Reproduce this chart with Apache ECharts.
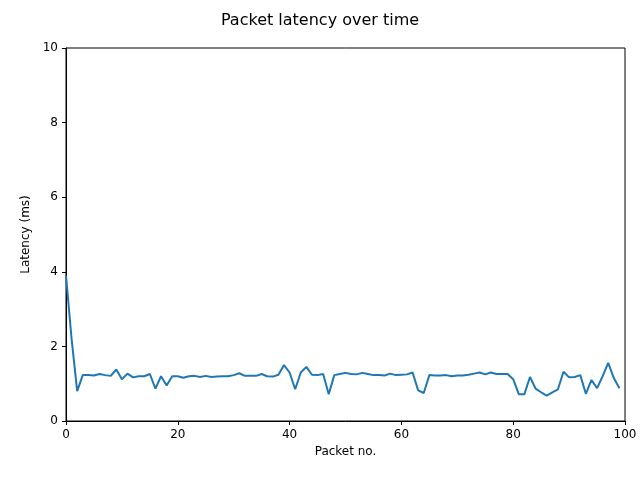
<!DOCTYPE html>
<html>
<head>
<meta charset="utf-8">
<script src="https://cdn.jsdelivr.net/npm/echarts@6/dist/echarts.min.js"></script>
<style>html,body{margin:0;padding:0;background:#fff}#m{width:640px;height:480px}</style>
</head>
<body>
<div id="m"></div>
<script>
// latency per packet (ms), packets 0..99
var latency = [3.9, 2.2, 0.8, 1.23, 1.23, 1.22, 1.26, 1.23, 1.21, 1.38,
    1.12, 1.27, 1.17, 1.2, 1.2, 1.26, 0.87, 1.2, 0.95, 1.2,
    1.2, 1.16, 1.2, 1.21, 1.18, 1.21, 1.18, 1.19, 1.2, 1.2,
    1.23, 1.28, 1.21, 1.21, 1.21, 1.26, 1.2, 1.19, 1.24, 1.5,
    1.3, 0.85, 1.3, 1.45, 1.24, 1.23, 1.26, 0.72, 1.23, 1.26,
    1.29, 1.26, 1.25, 1.29, 1.26, 1.23, 1.23, 1.22, 1.27, 1.23,
    1.24, 1.25, 1.3, 0.82, 0.75, 1.23, 1.22, 1.22, 1.23, 1.2,
    1.22, 1.22, 1.24, 1.27, 1.3, 1.25, 1.3, 1.26, 1.26, 1.26,
    1.12, 0.72, 0.72, 1.18, 0.87, 0.77, 0.68, 0.77, 0.85, 1.32,
    1.17, 1.18, 1.23, 0.73, 1.1, 0.88, 1.2, 1.56, 1.15, 0.88];
var points = latency.map(function (v, i) { return [i, v]; });

var myChart = echarts.init(document.getElementById('m'));
var font = 'DejaVu Sans';
var axisCommon = {
    axisLine: { show: true, lineStyle: { color: '#000' } },
    axisTick: { show: true, inside: false, length: 4, lineStyle: { color: '#000' } },
    axisLabel: { color: '#000', fontFamily: font, fontSize: 12 },
    splitLine: { show: false },
    nameTextStyle: { color: '#000', fontFamily: font, fontSize: 12 }
};
var option = {
    animation: false,
    title: {
        text: 'Packet latency over time',
        left: 'center',
        top: 8,
        textStyle: { fontFamily: font, fontSize: 16, fontWeight: 'normal', color: '#000' }
    },
    grid: {
        left: 66, right: 15, top: 48, bottom: 59,
        show: true, borderColor: '#000', borderWidth: 1
    },
    xAxis: Object.assign({}, axisCommon, {
        type: 'value', min: 0, max: 100, interval: 20,
        name: 'Packet no.', nameLocation: 'middle', nameGap: 24
    }),
    yAxis: Object.assign({}, axisCommon, {
        type: 'value', min: 0, max: 10, interval: 2,
        name: 'Latency (ms)', nameLocation: 'middle', nameGap: 32
    }),
    series: [{
        type: 'line',
        data: points,
        showSymbol: false,
        lineStyle: { color: '#1f77b4', width: 2 }
    }]
};
myChart.setOption(option);
</script>
</body>
</html>
